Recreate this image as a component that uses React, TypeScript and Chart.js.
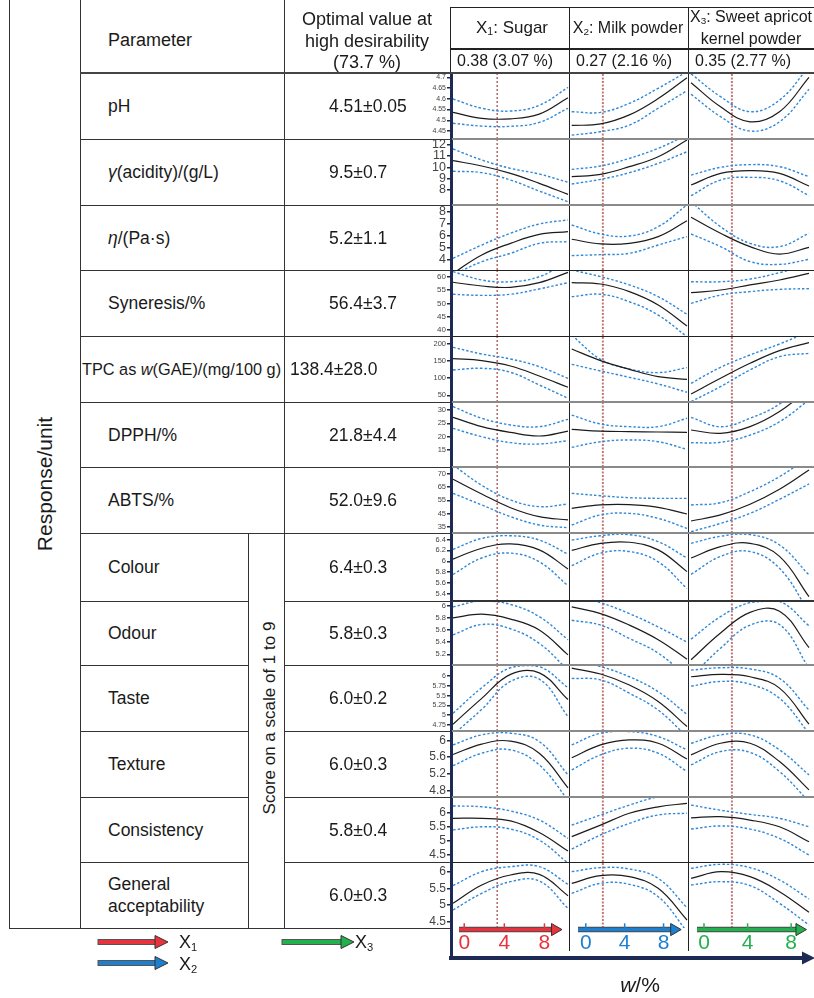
import React, { useEffect, useRef } from "react";
import { Chart, registerables } from "chart.js";
Chart.register(...registerables);

const FONT = '"Liberation Sans", Arial, Helvetica, sans-serif';
Chart.defaults.font.family = FONT;

// ---------------- data ----------------
const FACTOR_NAMES = ["Sugar", "Milk powder", "Sweet apricot kernel powder"];
const FACTOR_CODED = ["0.38 (3.07 %)", "0.27 (2.16 %)", "0.35 (2.77 %)"];
const FACTOR_OPTIMA = [3.07, 2.16, 2.77];
const X_POINTS = [0, 2, 4, 6, 8];
const W_TICKS = [0, 4, 8];
const DESIRABILITY = "73.7 %";

const PARAMETERS = [
  "pH",
  "*γ*(acidity)/(g/L)",
  "*η*/(Pa·s)",
  "Syneresis/%",
  "TPC as *w*(GAE)/(mg/100 g)",
  "DPPH/%",
  "ABTS/%",
  "Colour",
  "Odour",
  "Taste",
  "Texture",
  "Consistency",
  "General\nacceptability",
];
const OPTIMAL_VALUES = [
  "4.51±0.05", "9.5±0.7", "5.2±1.1", "56.4±3.7", "138.4±28.0", "21.8±4.4", "52.0±9.6",
  "6.4±0.3", "5.8±0.3", "6.0±0.2", "6.0±0.3", "5.8±0.4", "6.0±0.3",
];

// each array: [X1 column, X2 column, X3 column], values at X_POINTS
const PH_MEAN = [[4.537, 4.509, 4.507, 4.529, 4.605], [4.476, 4.483, 4.525, 4.601, 4.698], [4.675, 4.563, 4.493, 4.54, 4.7]];
const PH_UPPER = [[4.599, 4.556, 4.543, 4.57, 4.653], [4.54, 4.537, 4.579, 4.649, 4.726], [4.716, 4.61, 4.54, 4.594, 4.75]];
const PH_LOWER = [[4.486, 4.473, 4.472, 4.49, 4.556], [4.431, 4.447, 4.478, 4.556, 4.638], [4.621, 4.517, 4.45, 4.493, 4.644]];

const ACID_MEAN = [[10.59, 10.12, 9.47, 8.59, 7.62], [9.18, 9.38, 10.06, 10.94, 12.41], [8.44, 9.47, 9.71, 9.47, 8.35]];
const ACID_UPPER = [[11.62, 10.65, 9.91, 9.41, 8.68], [9.82, 10.12, 10.79, 11.68, 12.85], [9.32, 10.0, 10.24, 10.06, 9.18]];
const ACID_LOWER = [[9.65, 9.53, 8.88, 7.91, 6.97], [8.53, 8.94, 9.53, 10.35, 11.38], [7.5, 8.88, 9.12, 8.82, 7.5]];

const VISC_MEAN = [[2.83, 4.36, 5.33, 6.08, 6.31], [5.67, 5.28, 5.33, 5.89, 7.22], [7.5, 6.17, 5.06, 4.44, 5.0]];
const VISC_UPPER = [[4.08, 5.19, 6.17, 6.94, 7.28], [6.86, 6.11, 5.94, 6.72, 8.53], [8.8, 6.72, 5.33, 5.06, 6.17]];
const VISC_LOWER = [[2.7, 3.8, 4.5, 5.33, 5.47], [4.31, 4.39, 4.5, 5.19, 5.89], [6.11, 5.06, 3.81, 3.58, 4.0]];

const SYN_MEAN = [[57.9, 56.5, 56.0, 57.75, 61.6], [57.75, 57.25, 54.4, 49.4, 41.5], [54.0, 55.0, 56.9, 58.75, 61.25]];
const SYN_UPPER = [[61.9, 58.75, 58.1, 60.0, 65.6], [62.5, 60.0, 56.9, 52.5, 45.9], [58.1, 58.1, 59.1, 61.5, 64.4]];
const SYN_LOWER = [[53.4, 53.0, 53.4, 55.4, 57.75], [52.5, 53.4, 50.6, 45.6, 37.5], [50.0, 53.1, 54.4, 55.25, 55.5]];

const TPC_MEAN = [[157.2, 151.3, 135.7, 106.5, 73.4], [185.4, 151.3, 126.0, 104.6, 96.8], [54.0, 99.7, 143.5, 180.5, 203.9]];
const TPC_UPPER = [[190.3, 170.8, 156.2, 133.8, 99.7], [226, 155.2, 127, 116.3, 130.9], [85, 131.8, 167.9, 200, 236]];
const TPC_LOWER = [[124.1, 128.9, 117.2, 80.2, 41.3], [140.6, 121.1, 102.6, 83.2, 58.8], [31.5, 75.4, 124, 163, 172.7]];

const DPPH_MEAN = [[27.25, 23.75, 21.6, 20.25, 22.1], [22.75, 22.1, 21.9, 21.75, 21.6], [22.5, 21.25, 23.75, 29.4, 38]];
const DPPH_UPPER = [[31.25, 26.9, 24.4, 23.75, 26.5], [28.1, 24.75, 23.75, 23.75, 26.9], [27.25, 23.75, 26.9, 32.25, 42]];
const DPPH_LOWER = [[23.1, 20, 17.75, 17.25, 18.5], [16, 18.1, 18.75, 18.1, 15.25], [17.75, 17.9, 20.6, 25.6, 33.75]];

const ABTS_MEAN = [[71, 59.8, 49.4, 42.6, 40.1], [48.9, 51.5, 51.7, 49.7, 44.6], [39.3, 43.9, 52, 63.4, 78]];
const ABTS_UPPER = [[81.8, 66.4, 55.3, 50.2, 52.2], [60.3, 58.5, 57, 56.5, 56.5], [51.5, 53.2, 61.6, 73, 88]];
const ABTS_LOWER = [[60.3, 51.5, 42.6, 36.3, 34.2], [36.3, 43.9, 45.1, 41.3, 33.7], [31.2, 37.5, 45.1, 55.8, 67.4]];

const COLOUR_MEAN = [[6.04, 6.24, 6.32, 6.21, 5.86], [6.2, 6.33, 6.35, 6.21, 5.81], [6.06, 6.27, 6.33, 6.09, 5.35]];
const COLOUR_UPPER = [[6.22, 6.42, 6.47, 6.39, 6.13], [6.39, 6.47, 6.49, 6.36, 6.06], [6.33, 6.46, 6.49, 6.3, 5.75]];
const COLOUR_LOWER = [[5.76, 6.06, 6.15, 5.99, 5.55], [5.92, 6.15, 6.18, 5.99, 5.5], [5.76, 6.09, 6.18, 5.87, 5.07]];

const ODOUR_MEAN = [[5.8, 5.86, 5.78, 5.6, 5.19], [5.98, 5.87, 5.68, 5.44, 5.12], [5.11, 5.55, 5.89, 5.91, 5.31]];
const ODOUR_UPPER = [[5.98, 6.08, 6.02, 5.82, 5.44], [6.18, 6.05, 5.87, 5.65, 5.4], [5.45, 5.82, 6.05, 6.07, 5.67]];
const ODOUR_LOWER = [[5.52, 5.69, 5.62, 5.38, 4.94], [5.76, 5.68, 5.46, 5.22, 4.83], [4.83, 5.3, 5.68, 5.69, 4.97]];

const TASTE_MEAN = [[4.77, 5.43, 6.04, 6.08, 5.4], [6.2, 6.05, 5.77, 5.35, 4.71], [5.98, 6.04, 5.98, 5.69, 4.77]];
const TASTE_UPPER = [[5.05, 5.7, 6.21, 6.24, 5.7], [6.41, 6.24, 5.98, 5.6, 5.02], [6.15, 6.21, 6.18, 5.94, 5.13]];
const TASTE_LOWER = [[4.5, 5.15, 5.86, 5.92, 4.96], [5.94, 5.9, 5.56, 5.13, 4.45], [5.74, 5.86, 5.79, 5.43, 4.54]];

const TEXTURE_MEAN = [[5.66, 5.91, 5.98, 5.69, 4.86], [5.58, 5.89, 6.01, 5.93, 5.55], [5.65, 5.93, 5.93, 5.49, 4.81]];
const TEXTURE_UPPER = [[5.89, 6.13, 6.17, 5.97, 5.17], [5.89, 6.17, 6.21, 6.09, 5.77], [5.93, 6.13, 6.13, 5.77, 5.17]];
const TEXTURE_LOWER = [[5.39, 5.69, 5.77, 5.41, 4.57], [5.29, 5.65, 5.81, 5.69, 5.25], [5.41, 5.73, 5.71, 5.25, 4.53]];

const CONS_MEAN = [[5.8, 5.8, 5.71, 5.3, 4.64], [5.15, 5.56, 5.98, 6.21, 6.33], [5.82, 5.86, 5.74, 5.5, 4.97]];
const CONS_UPPER = [[6.24, 6.21, 6.06, 5.74, 5.09], [5.56, 5.92, 6.27, 6.57, 6.74], [6.27, 6.09, 5.94, 5.8, 5.5]];
const CONS_LOWER = [[5.39, 5.5, 5.42, 5.03, 4.21], [4.71, 5.21, 5.62, 5.92, 5.98], [5.42, 5.53, 5.42, 5.09, 4.5]];

const GEN_MEAN = [[5.05, 5.6, 5.9, 5.92, 5.28], [5.65, 5.88, 5.85, 5.5, 4.55], [5.8, 6.0, 5.85, 5.4, 4.78]];
const GEN_UPPER = [[5.58, 6.0, 6.15, 6.15, 5.62], [6.0, 6.12, 6.08, 5.8, 4.92], [6.1, 6.22, 6.12, 5.75, 5.18]];
const GEN_LOWER = [[4.85, 5.35, 5.7, 5.72, 4.9], [5.35, 5.65, 5.62, 5.25, 4.2], [5.6, 5.7, 5.58, 5.05, 4.4]];

const Y_TICKS_PH = [4.45, 4.5, 4.55, 4.6, 4.65, 4.7];
const Y_TICKS_ACID = [8, 9, 10, 11, 12];
const Y_TICKS_VISC = [4, 5, 6, 7, 8];
const Y_TICKS_SYN = [40, 45, 50, 55, 60];
const Y_TICKS_TPC = [50, 100, 150, 200];
const Y_TICKS_DPPH = [15, 20, 25, 30];
const Y_TICKS_ABTS = [35, 45, 55, 65, 75];
const Y_TICK_LABELS_ABTS = ["35", "45", "55", "65", "70"];
const Y_TICKS_COLOUR = [5.4, 5.6, 5.8, 6, 6.2, 6.4];
const Y_TICKS_ODOUR = [5.2, 5.4, 5.6, 5.8, 6];
const Y_TICKS_TASTE = [4.75, 5, 5.25, 5.5, 5.75, 6];
const Y_TICKS_TEXTURE = [4.8, 5.2, 5.6, 6];
const Y_TICKS_CONS = [4.5, 5, 5.5, 6];
const Y_TICKS_GEN = [4.5, 5, 5.5, 6];

const Y_RANGES = [
  [4.413, 4.72], [6.68, 12.5], [3.11, 8.525], [37.76, 62.5], [30.4, 223.4], [8.63, 33], [30.2, 80.3],
  [5.27, 6.52], [5.024, 6.077], [4.597, 6.28], [4.64, 6.223], [4.252, 6.557], [4.31, 6.29],
];

// -------------- layout / style --------------
const ROWS = [
  { mean: PH_MEAN, upper: PH_UPPER, lower: PH_LOWER, ticks: Y_TICKS_PH, labels: null, font: 7 },
  { mean: ACID_MEAN, upper: ACID_UPPER, lower: ACID_LOWER, ticks: Y_TICKS_ACID, labels: null, font: 12.5 },
  { mean: VISC_MEAN, upper: VISC_UPPER, lower: VISC_LOWER, ticks: Y_TICKS_VISC, labels: null, font: 12.5 },
  { mean: SYN_MEAN, upper: SYN_UPPER, lower: SYN_LOWER, ticks: Y_TICKS_SYN, labels: null, font: 8 },
  { mean: TPC_MEAN, upper: TPC_UPPER, lower: TPC_LOWER, ticks: Y_TICKS_TPC, labels: null, font: 7.5 },
  { mean: DPPH_MEAN, upper: DPPH_UPPER, lower: DPPH_LOWER, ticks: Y_TICKS_DPPH, labels: null, font: 7.5 },
  { mean: ABTS_MEAN, upper: ABTS_UPPER, lower: ABTS_LOWER, ticks: Y_TICKS_ABTS, labels: Y_TICK_LABELS_ABTS, font: 7.5 },
  { mean: COLOUR_MEAN, upper: COLOUR_UPPER, lower: COLOUR_LOWER, ticks: Y_TICKS_COLOUR, labels: null, font: 7.5 },
  { mean: ODOUR_MEAN, upper: ODOUR_UPPER, lower: ODOUR_LOWER, ticks: Y_TICKS_ODOUR, labels: null, font: 7.5 },
  { mean: TASTE_MEAN, upper: TASTE_UPPER, lower: TASTE_LOWER, ticks: Y_TICKS_TASTE, labels: null, font: 7 },
  { mean: TEXTURE_MEAN, upper: TEXTURE_UPPER, lower: TEXTURE_LOWER, ticks: Y_TICKS_TEXTURE, labels: null, font: 12 },
  { mean: CONS_MEAN, upper: CONS_UPPER, lower: CONS_LOWER, ticks: Y_TICKS_CONS, labels: null, font: 12 },
  { mean: GEN_MEAN, upper: GEN_UPPER, lower: GEN_LOWER, ticks: Y_TICKS_GEN, labels: null, font: 12 },
].map((r, i) => ({ ...r, range: Y_RANGES[i] }));

const ROW_EDGES = [73, 139, 205, 270, 336, 402, 467, 533, 601, 665, 731, 797, 862, 928];
const PAD = 8;
const COLS = [
  { left: 400, width: 169 },
  { left: 570, width: 118 },
  { left: 689, width: 125 },
];
const X_RANGES = [[-0.14, 8.07], [-0.12, 8.07], [-0.14, 8.34]];
const BOTTOM_COLS = [
  { left: 451, width: 118 },
  { left: 570, width: 118 },
  { left: 689, width: 125 },
];
const BOTTOM_RANGES = [[-0.52, 9.65], [-0.8, 9.69], [-0.64, 9.36]];
const FACTOR_COLORS = ["#e8323c", "#1f7fcf", "#22b14c"];
const BLUE = "#2f88d8";
const NAVY = "#1d2a55";
const SEP_COLORS = ["#8a8a8a", "#8a8a8a", "#222", "#222", "#8a8a8a", "#8a8a8a", "#8a8a8a", "#333", "#8a8a8a", "#8a8a8a", "#8a8a8a", "#222"];
const SEP_WIDTHS = [2, 2, 1, 1, 2, 2, 2, 2, 2, 2, 2, 1];

function Panel({ rowIndex, col }: { rowIndex: number; col: number }) {
  const ref = useRef<HTMLCanvasElement>(null);
  const row = ROWS[rowIndex];
  const top = ROW_EDGES[rowIndex] - PAD;
  const height = ROW_EDGES[rowIndex + 1] - ROW_EDGES[rowIndex] + 2 * PAD;
  const { left, width } = COLS[col];
  useEffect(() => {
    const [ymin, ymax] = row.range;
    const pts = (arr: number[]) => X_POINTS.map((x, i) => ({ x, y: arr[i] }));
    // Chart.js paints dataset 0 on top
    const chart = new Chart(ref.current as HTMLCanvasElement, {
      type: "line",
      data: {
        datasets: [
          { data: pts(row.mean[col]), borderColor: "#1b1b1b", borderWidth: 1.2, pointRadius: 0, tension: 0.4, clip: 0 },
          { data: pts(row.upper[col]), borderColor: BLUE, borderWidth: 1.4, borderDash: [2.5, 2], pointRadius: 0, tension: 0.4, clip: 0 },
          { data: pts(row.lower[col]), borderColor: BLUE, borderWidth: 1.4, borderDash: [2.5, 2], pointRadius: 0, tension: 0.4, clip: 0 },
          {
            data: [{ x: FACTOR_OPTIMA[col], y: ymin }, { x: FACTOR_OPTIMA[col], y: ymax }],
            borderColor: col === 0 ? "#8e1b1b" : "#c47878",
            borderWidth: col === 0 ? 1 : 2,
            borderDash: col === 0 ? [2, 2] : [2, 1.5],
            pointRadius: 0,
            tension: 0,
            clip: 0,
          },
        ] as any,
      },
      options: {
        animation: false,
        responsive: false,
        maintainAspectRatio: false,
        events: [],
        layout: { padding: { top: PAD, bottom: PAD, left: 0, right: 0 } },
        plugins: { legend: { display: false }, tooltip: { enabled: false } },
        scales: {
          x: { type: "linear", display: false, min: X_RANGES[col][0], max: X_RANGES[col][1] },
          y: {
            type: "linear",
            display: col === 0,
            min: ymin,
            max: ymax,
            afterBuildTicks: (s: any) => {
              s.ticks = row.ticks.map((v: number) => ({ value: v }));
            },
            afterFit: (s: any) => {
              if (col === 0) {
                s.width = 51;
                s.paddingTop = 0;
                s.paddingBottom = 0;
              }
            },
            ticks: {
              autoSkip: false,
              padding: 1,
              color: "#444",
              font: { size: row.font, family: FONT },
              callback: (v: any, i: number) => (row.labels ? row.labels[i] : String(v)),
            },
            grid: { drawOnChartArea: false, drawTicks: true, tickLength: 4, color: NAVY, lineWidth: 1.5 },
            border: { display: true, color: NAVY, width: 3 },
          },
        },
      } as any,
    });
    return () => chart.destroy();
  }, []);
  return <canvas ref={ref} width={width} height={height} style={{ position: "absolute", left, top, width, height }} />;
}

function WAxis({ col }: { col: number }) {
  const ref = useRef<HTMLCanvasElement>(null);
  const { left, width } = BOTTOM_COLS[col];
  const color = FACTOR_COLORS[col];
  useEffect(() => {
    const [xmin, xmax] = BOTTOM_RANGES[col];
    const tip = xmax - 0.6;
    const yA = 0.11;
    const chart = new Chart(ref.current as HTMLCanvasElement, {
      type: "line",
      data: {
        datasets: [
          {
            data: [{ x: tip, y: yA }],
            showLine: false,
            pointStyle: "triangle",
            rotation: 90,
            pointRadius: 7,
            backgroundColor: color,
            borderColor: "#333",
            borderWidth: 1,
            clip: false,
          },
          {
            data: W_TICKS.map((x) => ({ x, y: 0.36 })),
            showLine: false,
            pointStyle: "line",
            rotation: 90,
            pointRadius: 3,
            borderColor: color,
            borderWidth: 1.5,
            clip: false,
          },
          { data: [{ x: xmin, y: yA }, { x: tip, y: yA }], borderColor: color, borderWidth: 3.5, pointRadius: 0, clip: false },
          { data: [{ x: xmin, y: yA }, { x: tip, y: yA }], borderColor: "#4a4a4a", borderWidth: 5.5, pointRadius: 0, clip: false },
        ] as any,
      },
      options: {
        animation: false,
        responsive: false,
        maintainAspectRatio: false,
        events: [],
        layout: { padding: 0 },
        plugins: { legend: { display: false }, tooltip: { enabled: false } },
        scales: {
          x: {
            type: "linear",
            min: xmin,
            max: xmax,
            afterBuildTicks: (s: any) => {
              s.ticks = W_TICKS.map((v) => ({ value: v }));
            },
            afterFit: (s: any) => {
              s.paddingLeft = 0;
              s.paddingRight = 0;
            },
            ticks: { autoSkip: false, maxRotation: 0, padding: 0, color, font: { size: 21, family: FONT } },
            grid: { display: false, drawTicks: false },
            border: { display: false },
          },
          y: { display: false, min: 0, max: 1 },
        },
      } as any,
    });
    return () => chart.destroy();
  }, []);
  return <canvas ref={ref} width={width} height={42} style={{ position: "absolute", left, top: 910, width, height: 42 }} />;
}

function rich(s: string) {
  return s.split("*").map((p, i) => (i % 2 === 1 ? <i key={i}>{p}</i> : <React.Fragment key={i}>{p}</React.Fragment>));
}

function T({ x, y, size = 18, center = false, children, style = {} }: any) {
  return (
    <div
      style={{
        position: "absolute",
        left: x,
        top: y,
        transform: center ? "translate(-50%,-50%)" : "translateY(-50%)",
        fontSize: size,
        lineHeight: 1.2,
        whiteSpace: "pre",
        color: "#1a1a1a",
        textAlign: center ? "center" : "left",
        ...style,
      }}
    >
      {children}
    </div>
  );
}

function HL({ x1, x2, y, w = 1, c = "#333" }: any) {
  return <div style={{ position: "absolute", left: x1, top: y - w / 2, width: x2 - x1, height: w, background: c }} />;
}
function VL({ x, y1, y2, w = 1, c = "#333" }: any) {
  return <div style={{ position: "absolute", left: x - w / 2, top: y1, width: w, height: y2 - y1, background: c }} />;
}

function LegendArrow({ x, y, w, color }: any) {
  return (
    <svg style={{ position: "absolute", left: x, top: y - 8, overflow: "visible" }} width={w} height={16}>
      <rect x={0} y={5.5} width={w - 12} height={5} fill={color} stroke="#555" strokeWidth={1} />
      <polygon points={`${w - 13},1.5 ${w},8 ${w - 13},14.5`} fill={color} stroke="#333" strokeWidth={1} />
    </svg>
  );
}

const Sub = ({ children }: any) => (
  <span style={{ fontSize: "0.62em", verticalAlign: "-0.25em" }}>{children}</span>
);

export default function App() {
  const sensoryStart = 7;
  return (
    <div
      style={{
        position: "absolute",
        left: 0,
        top: 0,
        width: 814,
        height: 998,
        overflow: "hidden",
        background: "#fff",
        fontFamily: FONT,
      }}
    >
      {/* charts */}
      {ROWS.map((_, r) => [0, 1, 2].map((c) => <Panel key={`${r}-${c}`} rowIndex={r} col={c} />))}
      {[0, 1, 2].map((c) => (
        <WAxis key={`w${c}`} col={c} />
      ))}

      {/* table lines */}
      <VL x={9} y1={0} y2={928} />
      <VL x={80} y1={0} y2={928} />
      <VL x={284} y1={0} y2={928} />
      <VL x={248} y1={ROW_EDGES[sensoryStart]} y2={928} />
      <VL x={450.5} y1={7} y2={73} c="#222" />
      <VL x={569.5} y1={7} y2={951} c="#222" />
      <VL x={688.5} y1={7} y2={951} c="#222" />
      <HL x1={450} x2={814} y={7.5} c="#222" />
      <HL x1={450} x2={814} y={49} c="#222" w={1.5} />
      <HL x1={80} x2={814} y={73} c="#444" w={1.5} />
      <HL x1={9} x2={451} y={928} c="#333" />
      {ROW_EDGES.slice(1, 13).map((y, i) => {
        const inSensory = i + 1 > sensoryStart;
        return (
          <React.Fragment key={`sep${i}`}>
            {inSensory ? (
              <>
                <HL x1={80} x2={248} y={y} />
                <HL x1={284} x2={451} y={y} />
              </>
            ) : (
              <HL x1={80} x2={451} y={y} />
            )}
            <HL x1={452} x2={814} y={y} c={SEP_COLORS[i]} w={SEP_WIDTHS[i]} />
          </React.Fragment>
        );
      })}
      {/* axis extension & navy arrow */}
      <VL x={451} y1={925} y2={960} w={3} c={NAVY} />
      <svg style={{ position: "absolute", left: 449, top: 950, overflow: "visible" }} width={365} height={16}>
        <rect x={0} y={6} width={356} height={4} fill={NAVY} />
        <polygon points="353,1.5 366,8 353,14.5" fill={NAVY} />
      </svg>

      {/* header texts */}
      <T x={108} y={41}>Parameter</T>
      <T x={367} y={41} center>
        {"Optimal value at\nhigh desirability\n(" + DESIRABILITY + ")"}
      </T>
      <T x={512} y={28} center size={17}>
        X<Sub>1</Sub>: {FACTOR_NAMES[0]}
      </T>
      <T x={628} y={28} center size={16}>
        X<Sub>2</Sub>: {FACTOR_NAMES[1]}
      </T>
      <T x={751} y={28} center size={16} style={{ lineHeight: "18px" }}>
        X<Sub>3</Sub>: {"Sweet apricot\nkernel powder"}
      </T>
      <T x={457} y={61} size={16}>{FACTOR_CODED[0]}</T>
      <T x={576} y={61} size={16}>{FACTOR_CODED[1]}</T>
      <T x={695} y={61} size={16}>{FACTOR_CODED[2]}</T>

      {/* row texts */}
      {PARAMETERS.map((p, i) => {
        const cy = (ROW_EDGES[i] + ROW_EDGES[i + 1]) / 2;
        const isTpc = i === 4;
        return (
          <React.Fragment key={`p${i}`}>
            <T x={isTpc ? 82 : 108} y={cy} size={isTpc ? 16.3 : 17.5} style={{ lineHeight: "22px" }}>
              {rich(p)}
            </T>
            <T x={isTpc ? 290 : 329} y={cy} size={17.5}>
              {OPTIMAL_VALUES[i]}
            </T>
          </React.Fragment>
        );
      })}

      {/* rotated titles */}
      <T x={45} y={484} center size={21} style={{ transform: "translate(-50%,-50%) rotate(-90deg)" }}>
        Response/unit
      </T>
      <T x={270} y={718} center size={17} style={{ transform: "translate(-50%,-50%) rotate(-90deg)" }}>
        Score on a scale of 1 to 9
      </T>

      {/* legend */}
      <LegendArrow x={98} y={942} w={70} color={FACTOR_COLORS[0]} />
      <LegendArrow x={98} y={963} w={70} color={FACTOR_COLORS[1]} />
      <LegendArrow x={282} y={942} w={72} color={FACTOR_COLORS[2]} />
      <T x={179} y={943} size={18}>
        X<Sub>1</Sub>
      </T>
      <T x={179} y={965} size={18}>
        X<Sub>2</Sub>
      </T>
      <T x={355} y={943} size={18}>
        X<Sub>3</Sub>
      </T>
      <T x={640} y={985} center size={21}>
        <i>w</i>/%
      </T>
    </div>
  );
}
